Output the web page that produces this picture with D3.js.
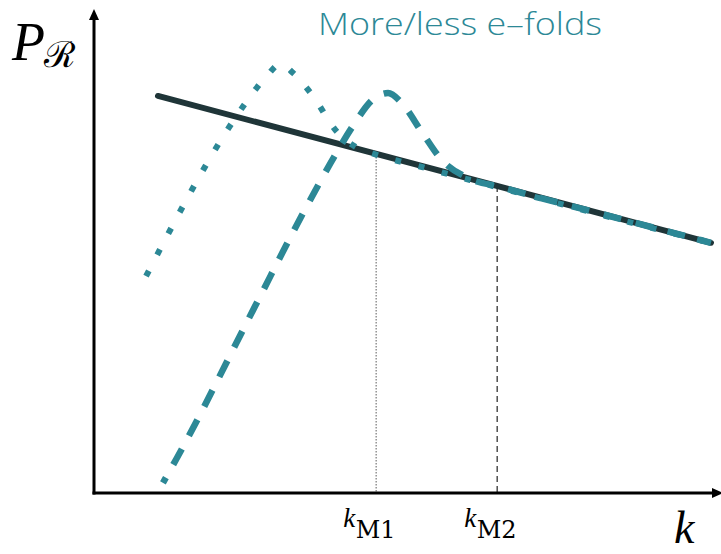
<!DOCTYPE html>
<html><head><meta charset="utf-8">
<script src="https://cdn.jsdelivr.net/npm/d3@7"></script>
<style>html,body{margin:0;padding:0;background:#fff;}svg{display:block;}</style>
</head><body>
<svg id="chart" width="721" height="554"></svg>
<script>
// Data (arbitrary units, k in 0..100, P in 0..100)
const baseK = [10.2, 98.4];
const baseP = [82.2, 51.8];
const lessK = [8.3, 22.6, 25.2, 27.6, 29.7, 31.8, 34.8, 38.8, 41.8, 45.1, 52, 60, 70, 80, 98.4];
const lessP = [44.9, 77.8, 82.6, 86.4, 88.8, 86.9, 82.4, 74.7, 71.6, 70.0, 67.6, 64.8, 61.4, 57.9, 51.8];
const moreK = [11.0, 13.2, 25.7, 33.2, 38.4, 41.3, 44.6, 46.9, 49.1, 52.3, 55.5, 59.5, 65, 70, 80, 98.4];
const moreP = [2.1, 7.2, 38.7, 57.6, 69.8, 76.0, 81.6, 82.8, 80.7, 74.7, 68.9, 65.3, 63.3, 61.5, 58.1, 51.8];
const kM = [45.0, 64.3];
const kMLabels = ["M1", "M2"];
const title = "More/less e–folds";

const svg = d3.select("#chart");
const x = d3.scaleLinear().domain([0, 100]).range([94, 721]);
const y = d3.scaleLinear().domain([0, 100]).range([493, 10]);
const teal = "#2c8896";
const dark = "#1f3538";

const lineGen = d3.line().x(d => x(d[0])).y(d => y(d[1])).curve(d3.curveMonotoneX);
const baseAt = k => baseP[0] + (k - baseK[0]) * (baseP[1] - baseP[0]) / (baseK[1] - baseK[0]);

// vertical markers
svg.append("line").attr("x1", x(kM[0])).attr("x2", x(kM[0]))
  .attr("y1", y(baseAt(kM[0]))).attr("y2", y(0))
  .attr("stroke", "#777").attr("stroke-width", 1.2).attr("stroke-dasharray", "1.5,1.5");
svg.append("line").attr("x1", x(kM[1])).attr("x2", x(kM[1]))
  .attr("y1", y(baseAt(kM[1]))).attr("y2", y(0))
  .attr("stroke", "#222").attr("stroke-width", 1.2).attr("stroke-dasharray", "6,4");

// base line
svg.append("path").datum(d3.zip(baseK, baseP)).attr("d", d3.line().x(d => x(d[0])).y(d => y(d[1])))
  .attr("fill", "none").attr("stroke", dark).attr("stroke-width", 6).attr("stroke-linecap", "round");

// less e-folds (dotted)
svg.append("path").datum(d3.zip(lessK, lessP)).attr("d", lineGen)
  .attr("fill", "none").attr("stroke", teal).attr("stroke-width", 6)
  .attr("stroke-dasharray", "6,18");

// more e-folds (dashed)
svg.append("path").datum(d3.zip(moreK, moreP)).attr("d", lineGen)
  .attr("fill", "none").attr("stroke", teal).attr("stroke-width", 6.5)
  .attr("stroke-dasharray", "18,15").attr("stroke-dashoffset", 12);

// axes
svg.append("line").attr("x1", x(0)).attr("x2", x(0)).attr("y1", y(0) + 1.5).attr("y2", 18)
  .attr("stroke", "#000").attr("stroke-width", 3);
svg.append("path").attr("d", `M${x(0)-5},20 L${x(0)},9 L${x(0)+5},20 Z`).attr("fill", "#000");
svg.append("line").attr("x1", x(0) - 1.5).attr("x2", 714).attr("y1", y(0)).attr("y2", y(0))
  .attr("stroke", "#000").attr("stroke-width", 3);
svg.append("path").attr("d", `M712,${y(0)-5} L723,${y(0)} L712,${y(0)+5} Z`).attr("fill", "#000");

// tick labels
kM.forEach((k, i) => {
  const t = svg.append("text").attr("x", x(k) - 33).attr("y", 527)
    .attr("font-family", "'Liberation Serif', 'DejaVu Serif', serif").attr("font-size", 26);
  t.append("tspan").attr("font-style", "italic").attr("font-size", 27).text("k");
  t.append("tspan").attr("dy", 11).attr("dx", 0.5)
    .attr("font-family", "'DejaVu Serif', serif").attr("font-size", 24).text(kMLabels[i]);
});

// axis titles
const py = svg.append("text").attr("x", 12).attr("y", 60)
  .attr("font-family", "'Liberation Serif', 'DejaVu Serif', serif").attr("font-size", 54);
py.append("tspan").attr("font-style", "italic").text("P");
py.append("tspan").attr("font-size", 36).attr("dy", 7).attr("dx", -1).attr("font-family", "'DejaVu Serif', serif").text("ℛ");

svg.append("text").attr("x", 674).attr("y", 543)
  .attr("font-family", "'Liberation Serif', 'DejaVu Serif', serif").attr("font-style", "italic")
  .attr("font-size", 46).text("k");

svg.append("text").attr("x", 318).attr("y", 35)
  .attr("font-family", "'Open Sans', sans-serif").attr("font-weight", 300)
  .attr("font-size", 31).attr("fill", teal)
  .attr("textLength", 284).attr("lengthAdjust", "spacingAndGlyphs").text(title);
</script>
</body></html>
